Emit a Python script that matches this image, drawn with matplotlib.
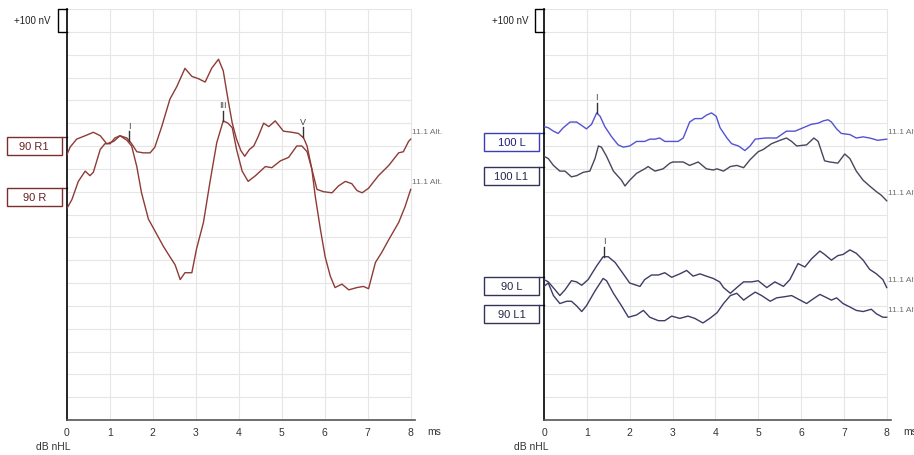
import numpy as np
import matplotlib.pyplot as plt
from matplotlib.patches import Rectangle

plt.rcParams['font.family'] = ['Liberation Sans', 'DejaVu Sans']

# latency in ms, amplitude in nV relative to each trace's baseline
r1_ms = [0, 0.08, 0.23, 0.43, 0.62, 0.78, 0.93, 1.09, 1.24, 1.4, 1.51, 1.63, 1.78, 1.94, 2.05,
         2.21, 2.4, 2.56, 2.75, 2.91, 3.06, 3.22, 3.37, 3.53, 3.64, 3.75, 3.85, 3.95, 4.05, 4.14,
         4.25, 4.35, 4.45, 4.58, 4.7, 4.85, 5.04, 5.24, 5.39, 5.51, 5.59, 5.7, 5.82, 5.97, 6.17,
         6.32, 6.48, 6.63, 6.75, 6.87, 7.02, 7.25, 7.49, 7.72, 7.83, 7.95, 8.0]
r1_nv = [-80, -45, -10, 5, 20, 5, -30, -20, 5, -5, -30, -65, -70, -70, -45,
         45, 165, 220, 300, 265, 255, 240, 300, 340, 290, 165, 60, -10, -60, -85,
         -55, -40, 0, 60, 45, 70, 25, 20, 15, -5, -40, -140, -230, -240, -245,
         -215, -195, -205, -235, -245, -225, -170, -125, -70, -65, -20, -10]

r_ms = [0, 0.12, 0.27, 0.43, 0.54, 0.62, 0.78, 0.89, 1.01, 1.12, 1.24, 1.4, 1.51, 1.63, 1.74,
        1.9, 2.09, 2.25, 2.4, 2.52, 2.64, 2.75, 2.91, 3.02, 3.18, 3.33, 3.49, 3.64, 3.75, 3.85,
        3.95, 4.08, 4.22, 4.39, 4.62, 4.77, 4.97, 5.16, 5.35, 5.47, 5.59, 5.7, 5.78, 5.9, 6.01,
        6.13, 6.24, 6.4, 6.56, 6.75, 6.9, 7.02, 7.18, 7.33, 7.49, 7.72, 7.87, 8.0]
r_nv = [-90, -50, 30, 75, 55, 70, 170, 195, 195, 220, 230, 210, 185, 95, -20,
        -135, -200, -255, -300, -335, -400, -370, -370, -265, -150, 25, 200, 295, 285, 265,
        170, 75, 30, 55, 95, 90, 120, 135, 185, 185, 160, 85, -35, -180, -300,
        -385, -435, -420, -445, -435, -430, -440, -325, -280, -225, -150, -80, -5]

l100_ms = [0, 0.1, 0.22, 0.33, 0.45, 0.61, 0.76, 0.88, 0.99, 1.11, 1.23, 1.31, 1.42, 1.58, 1.73,
           1.85, 2.0, 2.16, 2.35, 2.47, 2.59, 2.7, 2.82, 2.98, 3.13, 3.25, 3.4, 3.52, 3.68, 3.79,
           3.91, 4.02, 4.11, 4.27, 4.38, 4.54, 4.69, 4.81, 4.93, 5.16, 5.28, 5.43, 5.66, 5.86, 6.05,
           6.24, 6.4, 6.52, 6.63, 6.71, 6.83, 6.94, 7.14, 7.29, 7.45, 7.6, 7.79, 8.0]
l100_nv = [30, 25, 10, 0, 25, 50, 50, 35, 20, 40, 90, 75, 30, -15, -50,
           -60, -55, -35, -35, -25, -25, -20, -35, -35, -35, -20, 50, 65, 65, 80,
           90, 75, 25, -20, -45, -55, -75, -55, -25, -20, -20, -20, 10, 10, 25,
           40, 45, 55, 60, 50, 20, 0, -5, -20, -15, -20, -30, -25]

l101_ms = [0, 0.1, 0.22, 0.37, 0.49, 0.64, 0.76, 0.92, 1.07, 1.19, 1.27, 1.34, 1.46, 1.62, 1.81,
           1.89, 2.0, 2.16, 2.35, 2.43, 2.59, 2.78, 2.94, 3.01, 3.25, 3.4, 3.6, 3.79, 3.95, 4.04,
           4.19, 4.35, 4.5, 4.66, 4.81, 5.0, 5.12, 5.31, 5.51, 5.66, 5.78, 5.9, 6.13, 6.3, 6.4,
           6.55, 6.67, 6.86, 7.02, 7.14, 7.29, 7.45, 7.6, 7.76, 7.87, 8.0]
l101_nv = [45, 35, 5, -20, -20, -45, -40, -25, -20, 35, 90, 85, 45, -20, -60,
           -85, -60, -30, -10, 0, -20, -10, 15, 20, 20, 5, 20, -10, -15, -10,
           -20, 0, 5, -5, 30, 65, 75, 100, 115, 125, 110, 90, 95, 125, 110,
           25, 20, 15, 55, 35, -20, -60, -85, -110, -125, -150]

l90_ms = [0, 0.1, 0.26, 0.37, 0.49, 0.64, 0.76, 0.88, 1.03, 1.23, 1.38, 1.5, 1.66, 1.85, 2.0,
          2.16, 2.24, 2.35, 2.51, 2.67, 2.82, 2.98, 3.17, 3.33, 3.48, 3.64, 3.79, 3.95, 4.1, 4.19,
          4.35, 4.5, 4.66, 4.85, 5.0, 5.2, 5.39, 5.59, 5.74, 5.93, 6.09, 6.24, 6.44, 6.55, 6.71,
          6.86, 6.98, 7.14, 7.29, 7.45, 7.6, 7.76, 7.91, 8.0]
l90_nv = [-10, -20, -55, -80, -55, -15, -20, -35, -10, 50, 90, 90, 65, 15, -25,
          -35, -40, -10, 10, 10, 20, 0, 15, 30, 5, 15, 5, -5, -20, -45,
          -70, -45, -20, -20, -15, -45, -20, -40, -10, 60, 45, 80, 115, 100, 75,
          95, 100, 120, 105, 75, 35, 15, -10, -45]

l91_ms = [0, 0.1, 0.22, 0.37, 0.53, 0.64, 0.76, 0.88, 0.99, 1.19, 1.38, 1.46, 1.62, 1.81, 1.97,
          2.16, 2.32, 2.47, 2.67, 2.82, 2.98, 3.17, 3.36, 3.52, 3.71, 3.87, 4.04, 4.19, 4.35, 4.5,
          4.66, 4.77, 4.93, 5.08, 5.28, 5.43, 5.62, 5.78, 5.93, 6.13, 6.28, 6.44, 6.55, 6.71, 6.83,
          6.98, 7.14, 7.29, 7.45, 7.64, 7.76, 7.91, 8.0]
l91_nv = [80, 95, 40, 5, 15, 15, -5, -30, -5, 60, 115, 105, 50, -5, -55,
          -45, -25, -55, -70, -70, -50, -60, -50, -60, -80, -60, -35, 5, 40, 50,
          20, 35, 55, 40, 15, 30, 35, 40, 25, 5, 25, 45, 35, 20, 30,
          5, -10, -25, -30, -20, -40, -55, -55]

x_ticks = [0, 1, 2, 3, 4, 5, 6, 7, 8]
info_text = '11.1 Alt.'

W, H = 914, 456
PX_NV = 1800 / 411.0   # nV per pixel (18 grid rows of 100 nV)

BROWN = '#8e3b36'
BLUE = '#5252d4'
NAVY = '#3d3d66'
GREY = '#47475c'

left_traces = [
    dict(name='90 R1', ms=r1_ms, nv=r1_nv, base=1240, color=BROWN, box='#7a2e2e', txt='#6a2222'),
    dict(name='90 R', ms=r_ms, nv=r_nv, base=1015, color=BROWN, box='#7a2e2e', txt='#6a2222'),
]
right_traces = [
    dict(name='100 L', ms=l100_ms, nv=l100_nv, base=1255, color=BLUE, box='#3d3db8', txt='#1e1e78'),
    dict(name='100 L1', ms=l101_ms, nv=l101_nv, base=1110, color=GREY, box='#33335a', txt='#262645'),
    dict(name='90 L', ms=l90_ms, nv=l90_nv, base=625, color=NAVY, box='#33335a', txt='#262645'),
    dict(name='90 L1', ms=l91_ms, nv=l91_nv, base=505, color=NAVY, box='#33335a', txt='#262645'),
]
# peak markers: (trace index, latency, label)
left_marks = [(0, 1.46, 'I'), (1, 3.64, 'III'), (0, 5.49, 'V')]
right_marks = [(0, 1.23, 'I'), (2, 1.40, 'I')]


def draw_panel(fig, x0, ppm, traces, marks):

    # axes placed in pixel terms, x in ms, y in nV
    ax = fig.add_axes([x0 / W, (H - 421) / H, 8.1 * ppm / W, 411 / H])
    ax.set_xlim(0, 8.1)
    ax.set_ylim(0, 1800)
    px = 1.0 / ppm

    # grid
    ax.vlines(x_ticks[1:], 0, 1800, color='#e6e6e6', lw=0.8, zorder=0)
    ax.hlines(np.arange(100, 1801, 100), 0, 8, color='#e6e6e6', lw=0.8, zorder=0)

    for s in ['top', 'right']:
        ax.spines[s].set_visible(False)
    ax.spines['left'].set_color('black')
    ax.spines['left'].set_linewidth(1.2)
    ax.spines['bottom'].set_color('#555555')
    ax.spines['bottom'].set_linewidth(1.2)
    ax.set_yticks([])
    ax.set_xticks(x_ticks)
    ax.tick_params(axis='x', length=0, pad=5, labelsize=7.5, labelcolor='#333333')

    # traces
    for t in traces:
        y = t['base'] + np.array(t['nv'])
        ax.plot(t['ms'], y, color=t['color'], lw=1.0, zorder=3)

        # label box, top edge on the baseline
        ax.add_patch(Rectangle((-60 * px, t['base'] - 18 * PX_NV), 55 * px, 18 * PX_NV,
                               fc='white', ec=t['box'], lw=1.0, clip_on=False, zorder=4))
        ax.plot([-5 * px, 0], [t['base'], t['base']], color=t['box'], lw=1.0, clip_on=False)
        ax.text(-32.5 * px, t['base'] - 9 * PX_NV, t['name'], ha='center', va='center',
                fontsize=8, color=t['txt'], clip_on=False, zorder=5)

        ax.text(8.0 + 1 * px, y[-1] + 8 * PX_NV, info_text, ha='left', va='center',
                fontsize=6, color='#707070', clip_on=False)

    # peak markers
    for i, lat, lab in marks:
        t = traces[i]
        yv = t['base'] + np.interp(lat, t['ms'], t['nv'])
        ax.plot([lat, lat], [yv, yv + 10 * PX_NV], color='#333333', lw=1.0, zorder=4)
        ax.text(lat, yv + 11.5 * PX_NV, lab, ha='center', va='bottom', fontsize=6.5,
                color='#444444')

    # 100 nV scale bracket
    ax.plot([0, -9 * px, -9 * px, 0], [1800, 1800, 1700, 1700], color='black', lw=1.0,
            clip_on=False)
    ax.text(-16 * px, 1752, '+100 nV', ha='right', va='center', fontsize=7,
            color='#222222', clip_on=False)

    ax.text(8.38, -11 * PX_NV, 'ms', ha='left', va='center', fontsize=7.5,
            color='#333333', clip_on=False)
    ax.text(-13 * px, -26 * PX_NV, 'dB nHL', ha='center', va='center', fontsize=7.5,
            color='#333333', clip_on=False)
    return ax


if __name__ == '__main__':

    fig = plt.figure(figsize=(W / 100, H / 100), dpi=100)
    fig.patch.set_facecolor('white')

    draw_panel(fig, 66.7, 43.0, left_traces, left_marks)
    draw_panel(fig, 544.0, 42.84, right_traces, right_marks)

    fig.savefig('out.png', dpi=100)
